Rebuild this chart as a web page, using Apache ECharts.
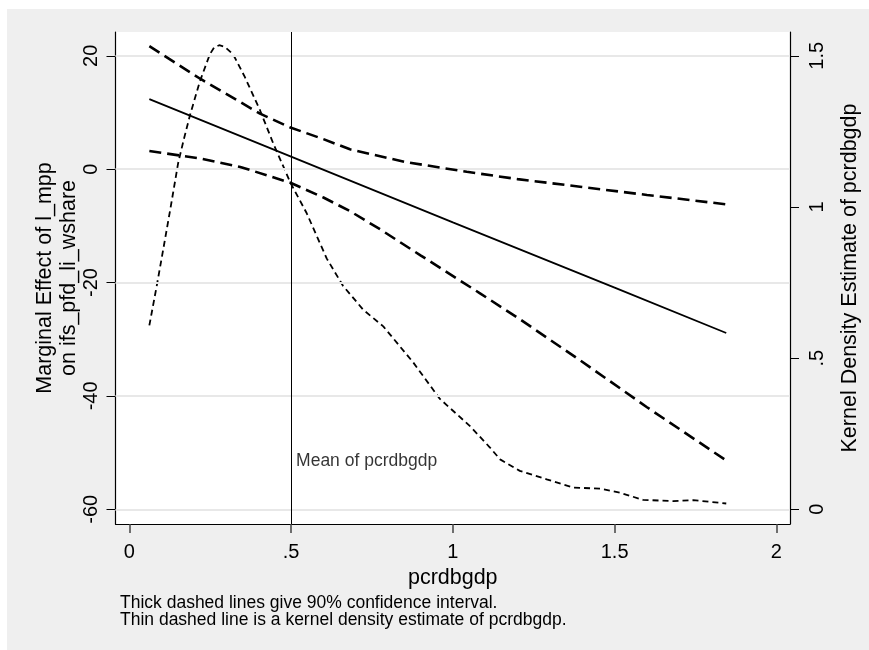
<!DOCTYPE html>
<html><head><meta charset="utf-8">
<script src="https://cdn.jsdelivr.net/npm/echarts@6/dist/echarts.min.js"></script>
<style>html,body{margin:0;padding:0;background:#fff;}#chart{position:absolute;left:7px;top:9px;width:862px;height:641px;}</style>
</head><body><div id="chart"></div><script>
// ---- data ----
const solidX = [0.062, 0.5, 1.0, 1.5, 1.845];
const solidY = [12.35, 2.2, -9.4, -20.9, -28.9];

const upperX = [0.062, 0.218, 0.404, 0.498, 0.6, 0.682, 0.85, 1.043, 1.2, 1.393, 1.6, 1.845];
const upperY = [21.7, 16.0, 9.8, 7.35, 5.3, 3.5, 1.3, -0.47, -1.75, -3.1, -4.55, -6.2];

const lowerX = [0.062, 0.218, 0.343, 0.498, 0.6, 0.682, 0.775, 0.9, 1.084, 1.2, 1.393, 1.6, 1.845];
const lowerY = [3.2, 1.9, 0.4, -2.4, -5.0, -7.4, -10.6, -15.2, -21.9, -26.2, -33.7, -42.0, -51.4];

const densX = [0.062, 0.085, 0.105, 0.128, 0.151, 0.17, 0.188, 0.218, 0.249, 0.262, 0.278, 0.295, 0.321, 0.357, 0.404, 0.445, 0.498, 0.548, 0.61, 0.66, 0.723, 0.785, 0.878, 0.96, 1.053, 1.114, 1.146, 1.207, 1.29, 1.372, 1.455, 1.516, 1.588, 1.681, 1.743, 1.845];
const densY = [0.608, 0.74, 0.86, 1.0, 1.145, 1.23, 1.305, 1.415, 1.505, 1.527, 1.535, 1.53, 1.505, 1.43, 1.32, 1.21, 1.08, 0.98, 0.83, 0.74, 0.66, 0.605, 0.485, 0.365, 0.275, 0.205, 0.165, 0.127, 0.099, 0.072, 0.068, 0.055, 0.031, 0.027, 0.030, 0.019];

const meanX = 0.5;
const meanLabelY = -51.6;

const xTicks = [0, 0.5, 1, 1.5, 2];
const yLeftTicks = [-60, -40, -20, 0, 20];
const yRightTicks = [0, 0.5, 1, 1.5];

const xTitle = 'pcrdbgdp';
const yLeftTitle = 'Marginal Effect of l_mpp\non ifs_pfd_li_wshare';
const yRightTitle = 'Kernel Density Estimate of pcrdbgdp';
const meanText = 'Mean of pcrdbgdp';
const noteText = 'Thick dashed lines give 90% confidence interval.\nThin dashed line is a kernel density estimate of pcrdbgdp.';

// ---- chart ----
const FONT = 'Liberation Sans, Arial, sans-serif';
const zip = (xs, ys) => xs.map((x, i) => [x, ys[i]]);
const fmt = v => { const s = String(v); return s.startsWith('0.') ? s.slice(1) : s; };

const chart = echarts.init(document.getElementById('chart'), null, {renderer: 'canvas'});
chart.setOption({
  backgroundColor: '#efefef',
  animation: false,
  textStyle: {fontFamily: FONT, color: '#000'},
  title: {
    text: noteText, left: 113, top: 585, padding: 0,
    textStyle: {fontFamily: FONT, fontSize: 17.5, fontWeight: 'normal', color: '#000', lineHeight: 17.5}
  },
  grid: {left: 108.5, top: 23, right: 79, bottom: 126, show: true, backgroundColor: '#fff', borderWidth: 0},
  xAxis: {
    type: 'value', min: -0.0426, max: 2.042,
    name: xTitle, nameLocation: 'middle', nameGap: 41,
    nameTextStyle: {fontFamily: FONT, fontSize: 21.5, color: '#000'},
    axisLine: {show: true, onZero: false, lineStyle: {color: '#000', width: 1.2}},
    axisTick: {show: true, length: 9, customValues: xTicks, lineStyle: {color: '#444', width: 1.5}},
    axisLabel: {show: true, customValues: xTicks, formatter: fmt, margin: 18, fontSize: 20, color: '#000', fontFamily: FONT},
    splitLine: {show: false}
  },
  yAxis: [{
    type: 'value', min: -62.6, max: 24.2, position: 'left',
    name: yLeftTitle, nameLocation: 'middle', nameGap: 35, nameRotate: 90, nameMoveOverlap: false,
    nameTextStyle: {fontFamily: FONT, fontSize: 21.5, color: '#000', lineHeight: 23.5},
    axisLine: {show: true, onZero: false, lineStyle: {color: '#000', width: 1.2}},
    axisTick: {show: true, length: 9, customValues: yLeftTicks, lineStyle: {color: '#000', width: 1}},
    axisLabel: {show: true, customValues: yLeftTicks, rotate: 90, margin: 14, fontSize: 20, color: '#000', fontFamily: FONT},
    splitLine: {show: false}
  }, {
    type: 'value', min: -0.04875, max: 1.5787, position: 'right', alignTicks: false,
    name: yRightTitle, nameLocation: 'middle', nameGap: 49, nameRotate: 90,
    nameTextStyle: {fontFamily: FONT, fontSize: 21.5, color: '#000'},
    axisLine: {show: true, onZero: false, lineStyle: {color: '#000', width: 1.2}},
    axisTick: {show: true, length: 9, customValues: yRightTicks, lineStyle: {color: '#000', width: 1}},
    axisLabel: {show: true, customValues: yRightTicks, formatter: fmt, rotate: 90, margin: 17, fontSize: 20, color: '#000', fontFamily: FONT},
    splitLine: {show: false}
  }],
  series: [
    {
      name: 'grid', type: 'line', data: [], z: 1, silent: true,
      markLine: {
        silent: true, symbol: 'none', animation: false,
        label: {show: false},
        lineStyle: {color: '#e8e8e8', width: 2, type: 'solid'},
        data: yLeftTicks.map(v => ({yAxis: v}))
      }
    },
    {
      name: 'mean', type: 'scatter', yAxisIndex: 0, z: 3, silent: true,
      symbolSize: 0, data: [[meanX, meanLabelY]],
      label: {show: true, position: 'right', distance: 5, formatter: meanText, fontSize: 17.5, color: '#000', fontFamily: FONT},
      markLine: {
        silent: true, symbol: 'none', animation: false,
        label: {show: false},
        lineStyle: {color: '#000', width: 1, type: 'solid'},
        data: [{xAxis: meanX}]
      }
    },
    {name: 'density', type: 'line', yAxisIndex: 1, z: 4, symbol: 'none', data: zip(densX, densY),
     lineStyle: {color: '#000', width: 1.8, type: [6, 4]}},
    {name: 'upper', type: 'line', yAxisIndex: 0, z: 5, symbol: 'none', data: zip(upperX, upperY),
     lineStyle: {color: '#000', width: 2.6, type: [12, 6]}},
    {name: 'lower', type: 'line', yAxisIndex: 0, z: 5, symbol: 'none', data: zip(lowerX, lowerY),
     lineStyle: {color: '#000', width: 2.6, type: [12, 6]}},
    {name: 'effect', type: 'line', yAxisIndex: 0, z: 5, symbol: 'none', data: zip(solidX, solidY),
     lineStyle: {color: '#000', width: 1.8, type: 'solid'}}
  ]
});
</script></body></html>
